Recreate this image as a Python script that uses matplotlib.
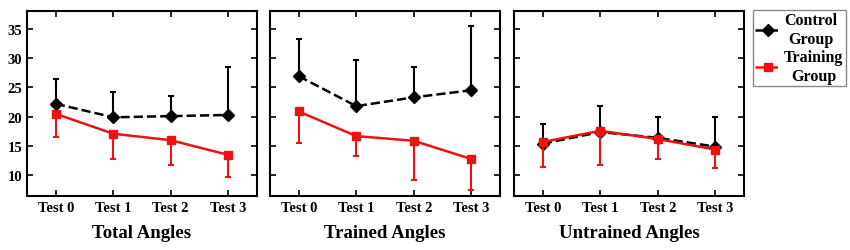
import matplotlib
matplotlib.use("Agg")
import matplotlib.pyplot as plt
from matplotlib.lines import Line2D

plt.rcParams['font.family'] = 'Liberation Serif'
plt.rcParams['font.weight'] = 'bold'

tests = ["Test 0", "Test 1", "Test 2", "Test 3"]
panel_titles = ["Total Angles", "Trained Angles", "Untrained Angles"]

# control group means and upper error ends
control_mean = [
    [22.2, 19.9, 20.1, 20.3],
    [26.9, 21.8, 23.3, 24.5],
    [15.4, 17.4, 16.4, 14.9],
]
control_upper = [
    [26.4, 24.2, 23.5, 28.4],
    [33.2, 29.7, 28.4, 35.4],
    [18.8, 21.9, 20.0, 19.9],
]
# training group means and lower error ends
training_mean = [
    [20.5, 17.1, 16.0, 13.5],
    [20.9, 16.7, 15.9, 12.8],
    [15.7, 17.6, 16.2, 14.4],
]
training_lower = [
    [16.6, 12.8, 11.7, 9.7],
    [15.6, 13.3, 9.2, 7.5],
    [11.4, 11.7, 12.8, 11.3],
]

fig = plt.figure(figsize=(8.5, 2.51), dpi=100)
lefts = [27 / 850, 270 / 850, 514 / 850]
w = 230 / 850
b = 54 / 251
h = 185 / 251

x = list(range(len(tests)))
for i in range(3):
    ax = fig.add_axes([lefts[i], b, w, h])
    cm, cu = control_mean[i], control_upper[i]
    tm, tl = training_mean[i], training_lower[i]
    ax.errorbar(x, cm, yerr=[[0] * 4, [u - m for u, m in zip(cu, cm)]],
                color='black', ls='--', lw=1.8, marker='D', ms=6,
                capsize=2.5, elinewidth=1.5, capthick=1.5, zorder=3)
    ax.errorbar(x, tm, yerr=[[m - l for m, l in zip(tm, tl)], [0] * 4],
                color='#ee1111', ls='-', lw=1.8, marker='s', ms=6,
                capsize=2.5, elinewidth=1.5, capthick=1.5, zorder=4)
    ax.set_xlim(-0.5, 3.5)
    ax.set_ylim(6.5, 38)
    ax.set_xticks(x)
    ax.set_xticklabels(tests, fontsize=10.5, fontweight='bold')
    ax.set_yticks([10, 15, 20, 25, 30, 35])
    ax.tick_params(direction='in', top=True, right=True, length=4, width=1.2,
                   labelsize=10.5)
    if i > 0:
        ax.set_yticklabels([])
    else:
        for t in ax.get_yticklabels():
            t.set_fontweight('bold')
    for s in ax.spines.values():
        s.set_linewidth(1.5)
    ax.set_xlabel(panel_titles[i], fontsize=13.5, fontweight='bold', labelpad=7)

handles = [
    Line2D([], [], color='black', ls='--', lw=1.8, marker='D', ms=6),
    Line2D([], [], color='#ee1111', ls='--', lw=1.8, marker='s', ms=6),
]
leg = fig.legend(handles, ["Control\nGroup", "Training\nGroup"],
                 loc='upper left', bbox_to_anchor=(753 / 850, 1 - 11 / 251),
                 fancybox=False, edgecolor='#888888', framealpha=1,
                 prop={'family': 'Liberation Serif', 'weight': 'bold', 'size': 11.5},
                 handlelength=1.6, handletextpad=0.2, borderpad=0.15,
                 labelspacing=0.15, borderaxespad=0)
for t in leg.get_texts():
    t.set_multialignment('center')

fig.savefig("out.png", dpi=100)
